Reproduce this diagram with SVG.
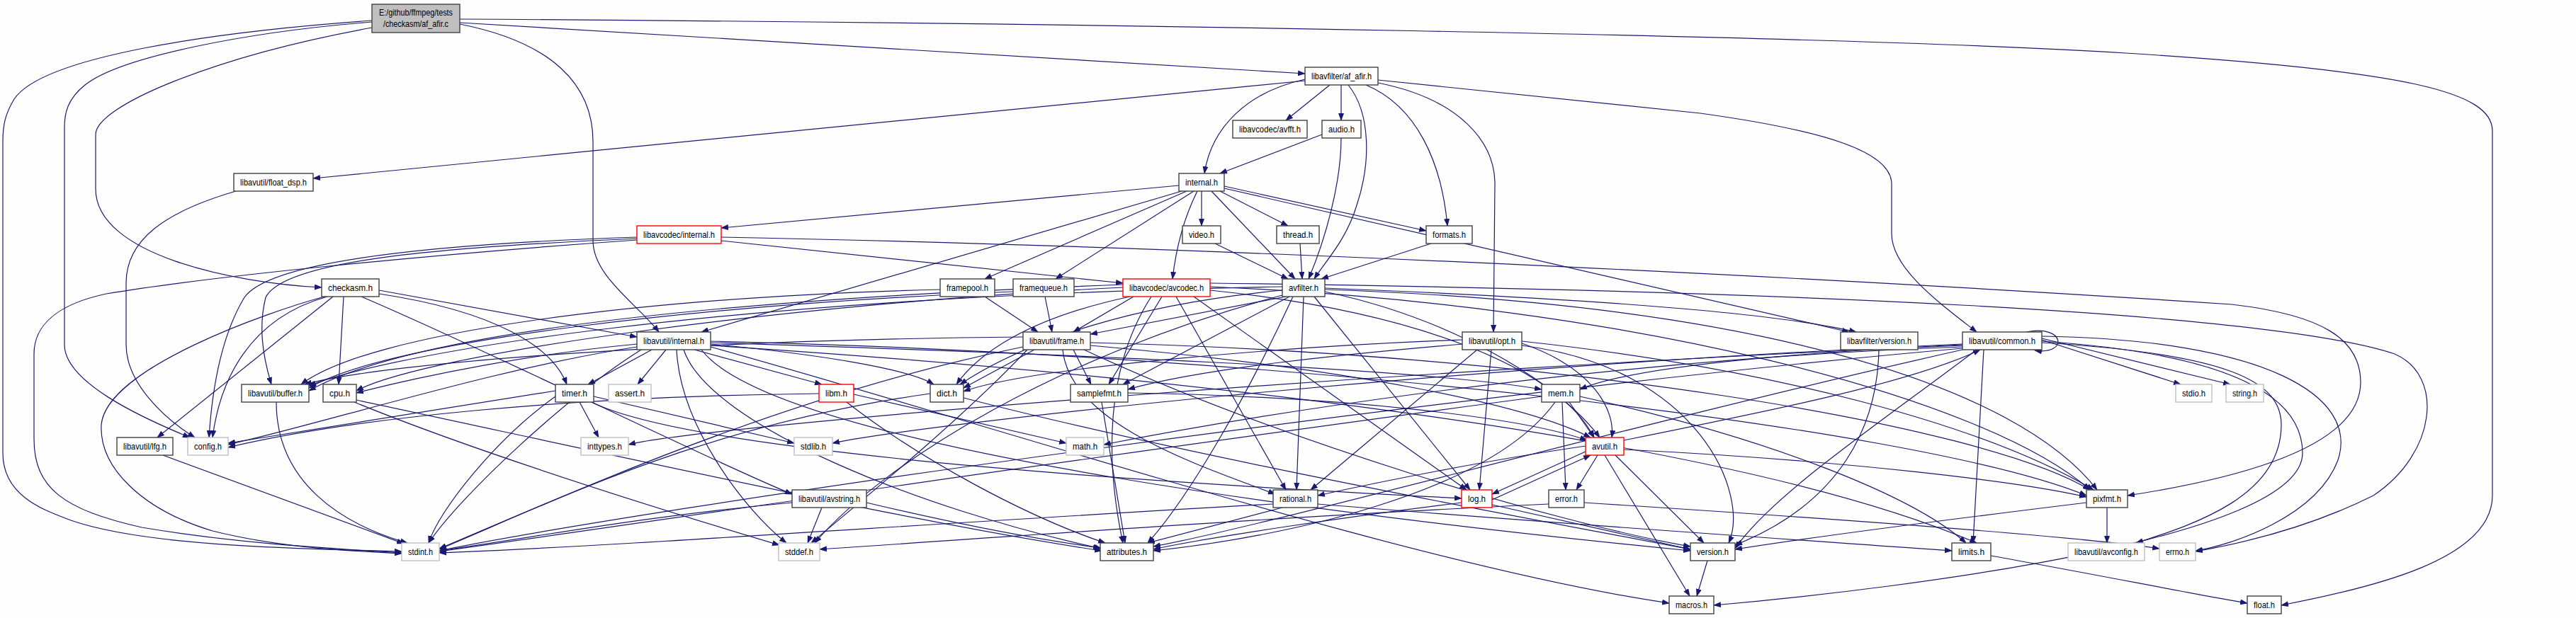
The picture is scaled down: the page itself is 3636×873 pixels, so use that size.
<svg xmlns="http://www.w3.org/2000/svg" width="3636" height="873" viewBox="0 0 3636 873">
<defs>
<style>
.e{fill:none;stroke:#191970;stroke-width:1.2;marker-end:url(#arr)}
.b{fill:#fff;stroke:#404040;stroke-width:1.4}
.g{fill:#fff;stroke:#bfbfbf;stroke-width:1.4}
.r{fill:#fff;stroke:#ff0000;stroke-width:1.4}
.rt{fill:#bfbfbf;stroke:#404040;stroke-width:1.4}
text{font-family:"Liberation Sans",Arial,sans-serif;font-size:13px;fill:#000;text-anchor:middle}
</style>
<marker id="arr" markerWidth="11" markerHeight="8" refX="10" refY="4" orient="auto" markerUnits="userSpaceOnUse"><path d="M0,0 L11,4 L0,8 z" fill="#191970"/></marker>
</defs>
<rect width="3636" height="873" fill="#fdfefd"/>
<g id="edges">
<path class="e" d="M649,32 L1842,104"/>
<path class="e" d="M649,27 C1500,32 2600,50 3000,75 C3400,100 3518,130 3518,185 L3518,700 C3518,790 3350,830 3220,855"/>
<path class="e" d="M649,34 C780,60 837,120 837,200 L837,340 C837,390 900,430 930,469"/>
<path class="e" d="M525,39 C300,80 135,150 135,190 L135,267 C135,360 330,400 454,406"/>
<path class="e" d="M525,31 C350,45 170,80 120,120 C95,140 91,160 91,180 L91,487 C91,540 200,590 268,618"/>
<path class="e" d="M525,29 C300,45 60,80 20,140 C8,160 4,175 4,200 L4,640 C4,700 60,720 100,735 C200,770 400,775 567,779"/>
<path class="e" d="M1842,114 L442,252"/>
<path class="e" d="M1877,120 L1815,170"/>
<path class="e" d="M1893,120 L1893,170"/>
<path class="e" d="M1842,112 C1760,130 1710,180 1700,245"/>
<path class="e" d="M1903,120 C1935,160 1935,230 1915,290 C1900,340 1870,370 1855,394"/>
<path class="e" d="M1928,120 C2000,150 2035,230 2043,319"/>
<path class="e" d="M1945,117 C2060,140 2110,200 2110,260 L2108,469"/>
<path class="e" d="M1945,113 L2400,160 C2580,185 2670,215 2670,260 L2670,330 C2670,380 2740,430 2790,469"/>
<path class="e" d="M333,270 C230,300 178,340 178,400 L178,487 C178,540 230,590 275,618"/>
<path class="e" d="M1893,195 C1893,260 1870,340 1847,394"/>
<path class="e" d="M1866,190 L1722,245"/>
<path class="e" d="M1664,262 L1018,322"/>
<path class="e" d="M1668,270 L990,469"/>
<path class="e" d="M1675,270 L1390,394"/>
<path class="e" d="M1685,270 L1490,394"/>
<path class="e" d="M1690,270 C1670,310 1660,350 1655,394"/>
<path class="e" d="M1696,270 L1696,319"/>
<path class="e" d="M1710,270 L1828,394"/>
<path class="e" d="M1722,270 L1818,319"/>
<path class="e" d="M1728,263 L2013,326"/>
<path class="e" d="M1728,266 L2610,469"/>
<path class="e" d="M1715,344 L1818,394"/>
<path class="e" d="M1835,344 L1838,394"/>
<path class="e" d="M2020,344 L1865,394"/>
<path class="e" d="M1018,340 L1585,400"/>
<path class="e" d="M1018,335 C1800,350 2700,400 3150,430 C3280,445 3332,480 3332,540 C3332,620 3200,670 3003,700"/>
<path class="e" d="M899,337 C600,350 400,370 375,420 C365,460 370,500 383,543"/>
<path class="e" d="M899,335 C600,345 380,370 345,420 C315,470 300,540 295,618"/>
<path class="e" d="M899,339 C600,360 300,390 150,415 C80,430 48,460 48,500 L48,620 C48,690 90,720 200,745 C350,770 480,775 567,781"/>
<path class="e" d="M1327,409 C900,420 520,470 425,543"/>
<path class="e" d="M1390,419 L1465,469"/>
<path class="e" d="M1430,412 C1000,430 550,480 436,548"/>
<path class="e" d="M1475,419 L1485,469"/>
<path class="e" d="M1600,419 L1515,469"/>
<path class="e" d="M1585,402 C1100,420 600,460 436,552"/>
<path class="e" d="M1585,406 C1100,430 600,500 503,552"/>
<path class="e" d="M1595,419 C1450,450 1380,500 1350,543"/>
<path class="e" d="M1640,419 L1565,543"/>
<path class="e" d="M1625,419 C1560,520 1560,650 1585,767"/>
<path class="e" d="M1660,419 L1815,692"/>
<path class="e" d="M1685,419 L2070,692"/>
<path class="e" d="M1708,410 C2000,440 2200,520 2250,618"/>
<path class="e" d="M1708,405 C2300,430 2800,560 2950,692"/>
<path class="e" d="M1708,400 C2500,410 3200,440 3380,500 C3450,530 3440,640 3350,700 C3250,750 3150,770 3099,779"/>
<path class="e" d="M1810,417 C1500,500 1250,650 1150,767"/>
<path class="e" d="M1825,419 C1760,560 1680,700 1620,767"/>
<path class="e" d="M1870,412 C2050,450 2200,540 2258,618"/>
<path class="e" d="M1810,405 C1000,420 550,500 436,545"/>
<path class="e" d="M1810,410 C1600,430 1450,480 1355,543"/>
<path class="e" d="M1815,419 L1539,472"/>
<path class="e" d="M1855,419 L2075,692"/>
<path class="e" d="M1820,419 L1585,543"/>
<path class="e" d="M1870,409 C2500,430 2850,550 2960,692"/>
<path class="e" d="M1840,419 L1830,692"/>
<path class="e" d="M1870,407 C2200,420 2500,440 2620,469"/>
<path class="e" d="M458,419 C380,440 150,520 143,600 C140,660 200,720 300,750 C400,775 500,778 567,782"/>
<path class="e" d="M462,419 C350,450 310,540 300,618"/>
<path class="e" d="M470,419 L222,618"/>
<path class="e" d="M485,419 L478,543"/>
<path class="e" d="M510,419 C700,500 1000,650 1118,698"/>
<path class="e" d="M535,410 L899,476"/>
<path class="e" d="M535,415 C700,440 780,490 800,543"/>
<path class="e" d="M1003,488 C1500,520 2400,600 2790,767"/>
<path class="e" d="M905,494 C800,560 650,700 605,767"/>
<path class="e" d="M955,494 C960,600 1050,720 1110,767"/>
<path class="e" d="M940,494 L900,543"/>
<path class="e" d="M899,490 C700,520 450,600 322,628"/>
<path class="e" d="M965,494 C1000,600 1300,720 1555,775"/>
<path class="e" d="M920,494 L830,543"/>
<path class="e" d="M899,486 C750,500 600,530 503,555"/>
<path class="e" d="M1003,486 C1150,500 1280,520 1318,543"/>
<path class="e" d="M1003,490 C1400,600 2000,800 2356,852"/>
<path class="e" d="M1003,484 C1500,500 2000,520 2176,550"/>
<path class="e" d="M1003,482 C1800,500 2700,600 2945,700"/>
<path class="e" d="M990,494 C1100,640 2000,740 2386,778"/>
<path class="e" d="M980,494 L1160,543"/>
<path class="e" d="M1450,494 C1350,600 1200,720 1145,767"/>
<path class="e" d="M1444,490 C1100,560 800,700 620,775"/>
<path class="e" d="M1539,488 C1900,520 2150,570 2245,618"/>
<path class="e" d="M1444,476 C1000,480 550,510 430,543"/>
<path class="e" d="M1460,494 L1360,548"/>
<path class="e" d="M1500,494 C1510,600 1700,660 1800,698"/>
<path class="e" d="M1515,494 L1540,543"/>
<path class="e" d="M1539,484 C2200,500 2800,600 2950,692"/>
<path class="e" d="M1530,494 C1800,620 2200,740 2386,772"/>
<path class="e" d="M2085,494 L1850,692"/>
<path class="e" d="M2148,485 C2250,520 2280,580 2275,618"/>
<path class="e" d="M2064,480 C1800,490 1450,520 1360,553"/>
<path class="e" d="M2105,494 L2088,692"/>
<path class="e" d="M2148,482 C2500,520 2800,600 2955,692"/>
<path class="e" d="M2064,486 C1900,500 1700,520 1592,550"/>
<path class="e" d="M2148,488 C2400,520 2470,700 2440,767"/>
<path class="e" d="M2652,494 C2650,600 2600,710 2449,770"/>
<path class="e" d="M2882,475 C3200,480 3330,560 3300,650 C3270,730 3150,770 3099,778"/>
<path class="e" d="M2770,488 C2000,520 1000,600 887,628"/>
<path class="e" d="M2800,494 L2785,767"/>
<path class="e" d="M2770,490 C2200,510 1700,600 1558,628"/>
<path class="e" d="M2770,492 C2000,560 900,720 620,778"/>
<path class="e" d="M2882,480 L3078,543"/>
<path class="e" d="M2882,478 L3148,543"/>
<path class="e" d="M2770,486 C2000,520 1300,600 1175,626"/>
<path class="e" d="M2770,494 C2300,600 1800,740 1628,772"/>
<path class="e" d="M2882,482 C3150,500 3250,560 3250,640 C3250,760 2700,830 2419,855"/>
<path class="e" d="M2790,494 C2650,600 2500,700 2449,775"/>
<path class="e" d="M2882,484 C3150,500 3220,540 3220,600 C3220,700 3100,740 3015,767"/>
<path class="e" d="M2770,487 C2500,500 2300,520 2230,550"/>
<path class="e" d="M2860,469 C2915,458 2920,502 2872,495"/>
<path class="e" d="M390,568 C390,680 480,740 575,767"/>
<path class="e" d="M500,568 C700,650 1000,740 1100,770"/>
<path class="e" d="M503,565 C900,650 1300,740 1555,778"/>
<path class="e" d="M784,552 L322,626"/>
<path class="e" d="M784,560 C700,620 620,720 605,767"/>
<path class="e" d="M818,568 L845,618"/>
<path class="e" d="M838,560 L1121,626"/>
<path class="e" d="M835,568 C1000,650 1800,690 2063,704"/>
<path class="e" d="M1205,557 L1505,626"/>
<path class="e" d="M1156,556 C800,560 500,590 322,632"/>
<path class="e" d="M1195,568 C1300,650 1450,730 1560,767"/>
<path class="e" d="M1313,556 C1000,600 800,700 620,776"/>
<path class="e" d="M1360,562 C1700,650 2200,740 2386,776"/>
<path class="e" d="M1592,555 C1900,560 2150,590 2240,622"/>
<path class="e" d="M1555,568 L1588,767"/>
<path class="e" d="M2230,560 C2500,620 2700,700 2775,767"/>
<path class="e" d="M2176,560 C1500,650 900,740 620,779"/>
<path class="e" d="M2195,568 C2100,700 1800,760 1628,778"/>
<path class="e" d="M2205,568 L2210,692"/>
<path class="e" d="M2215,568 L2250,618"/>
<path class="e" d="M2292,622 C2500,580 2700,540 2795,494"/>
<path class="e" d="M2255,643 L2225,692"/>
<path class="e" d="M2238,630 C2100,650 1950,680 1860,700"/>
<path class="e" d="M2280,643 L2405,767"/>
<path class="e" d="M2265,643 L2385,842"/>
<path class="e" d="M2240,637 L2106,698"/>
<path class="e" d="M2106,706 L2245,643"/>
<path class="e" d="M2292,635 C2600,650 2850,680 2945,702"/>
<path class="e" d="M2063,710 C1900,730 1700,760 1628,776"/>
<path class="e" d="M2106,713 L2386,776"/>
<path class="e" d="M2236,710 C2700,740 2950,760 3048,775"/>
<path class="e" d="M2186,712 C1800,730 1400,760 1157,776"/>
<path class="e" d="M1797,712 C1300,740 900,770 620,781"/>
<path class="e" d="M1860,712 C2200,740 2500,760 2755,778"/>
<path class="e" d="M1810,717 L1620,767"/>
<path class="e" d="M2974,717 L2974,767"/>
<path class="e" d="M2945,710 C2700,740 2550,760 2449,776"/>
<path class="e" d="M2410,792 L2395,842"/>
<path class="e" d="M1160,717 L1140,767"/>
<path class="e" d="M1118,710 C900,730 750,760 620,778"/>
<path class="e" d="M1223,710 C1350,740 1450,760 1553,774"/>
<path class="e" d="M230,643 L570,768"/>
<path class="e" d="M2810,785 C2950,810 3100,840 3172,852"/>
</g>
<g id="n_root"><rect class="rt" x="525" y="6" width="124" height="40"/><text x="587" y="22" textLength="104" lengthAdjust="spacingAndGlyphs">E:/github/ffmpeg/tests</text><text x="587" y="38" textLength="92" lengthAdjust="spacingAndGlyphs">/checkasm/af_afir.c</text></g>
<g id="n_afir"><rect class="b" x="1842" y="95" width="103" height="25"/><text x="1893.5" y="112" textLength="85" lengthAdjust="spacingAndGlyphs">libavfilter/af_afir.h</text></g>
<g id="n_fdsp"><rect class="b" x="330" y="245" width="112" height="25"/><text x="386" y="262" textLength="94" lengthAdjust="spacingAndGlyphs">libavutil/float_dsp.h</text></g>
<g id="n_avfft"><rect class="b" x="1740" y="170" width="105" height="25"/><text x="1792.5" y="187" textLength="87" lengthAdjust="spacingAndGlyphs">libavcodec/avfft.h</text></g>
<g id="n_audio"><rect class="b" x="1866" y="170" width="55" height="25"/><text x="1893.5" y="187" textLength="37" lengthAdjust="spacingAndGlyphs">audio.h</text></g>
<g id="n_lint"><rect class="b" x="1664" y="245" width="64" height="25"/><text x="1696" y="262" textLength="46" lengthAdjust="spacingAndGlyphs">internal.h</text></g>
<g id="n_acint"><rect class="r" x="899" y="319" width="119" height="25"/><text x="958.5" y="336" textLength="101" lengthAdjust="spacingAndGlyphs">libavcodec/internal.h</text></g>
<g id="n_video"><rect class="b" x="1669" y="319" width="54" height="25"/><text x="1696" y="336" textLength="36" lengthAdjust="spacingAndGlyphs">video.h</text></g>
<g id="n_thread"><rect class="b" x="1802" y="319" width="60" height="25"/><text x="1832" y="336" textLength="42" lengthAdjust="spacingAndGlyphs">thread.h</text></g>
<g id="n_formats"><rect class="b" x="2013" y="319" width="65" height="25"/><text x="2045.5" y="336" textLength="47" lengthAdjust="spacingAndGlyphs">formats.h</text></g>
<g id="n_checkasm"><rect class="b" x="454" y="394" width="81" height="25"/><text x="494.5" y="411" textLength="63" lengthAdjust="spacingAndGlyphs">checkasm.h</text></g>
<g id="n_fpool"><rect class="b" x="1327" y="394" width="77" height="25"/><text x="1365.5" y="411" textLength="59" lengthAdjust="spacingAndGlyphs">framepool.h</text></g>
<g id="n_fqueue"><rect class="b" x="1430" y="394" width="86" height="25"/><text x="1473" y="411" textLength="68" lengthAdjust="spacingAndGlyphs">framequeue.h</text></g>
<g id="n_avcodec"><rect class="r" x="1585" y="394" width="123" height="25"/><text x="1646.5" y="411" textLength="105" lengthAdjust="spacingAndGlyphs">libavcodec/avcodec.h</text></g>
<g id="n_avfilter"><rect class="b" x="1810" y="394" width="60" height="25"/><text x="1840" y="411" textLength="42" lengthAdjust="spacingAndGlyphs">avfilter.h</text></g>
<g id="n_uint"><rect class="b" x="899" y="469" width="104" height="25"/><text x="951" y="486" textLength="86" lengthAdjust="spacingAndGlyphs">libavutil/internal.h</text></g>
<g id="n_frame"><rect class="b" x="1444" y="469" width="95" height="25"/><text x="1491.5" y="486" textLength="77" lengthAdjust="spacingAndGlyphs">libavutil/frame.h</text></g>
<g id="n_opt"><rect class="b" x="2064" y="469" width="84" height="25"/><text x="2106" y="486" textLength="66" lengthAdjust="spacingAndGlyphs">libavutil/opt.h</text></g>
<g id="n_fver"><rect class="b" x="2598" y="469" width="109" height="25"/><text x="2652.5" y="486" textLength="91" lengthAdjust="spacingAndGlyphs">libavfilter/version.h</text></g>
<g id="n_common"><rect class="b" x="2770" y="469" width="112" height="25"/><text x="2826" y="486" textLength="94" lengthAdjust="spacingAndGlyphs">libavutil/common.h</text></g>
<g id="n_buffer"><rect class="b" x="341" y="543" width="95" height="25"/><text x="388.5" y="560" textLength="77" lengthAdjust="spacingAndGlyphs">libavutil/buffer.h</text></g>
<g id="n_cpu"><rect class="b" x="456" y="543" width="47" height="25"/><text x="479.5" y="560" textLength="29" lengthAdjust="spacingAndGlyphs">cpu.h</text></g>
<g id="n_timer"><rect class="b" x="784" y="543" width="54" height="25"/><text x="811" y="560" textLength="36" lengthAdjust="spacingAndGlyphs">timer.h</text></g>
<g id="n_assert"><rect class="g" x="859" y="543" width="60" height="25"/><text x="889" y="560" textLength="42" lengthAdjust="spacingAndGlyphs">assert.h</text></g>
<g id="n_libm"><rect class="r" x="1156" y="543" width="49" height="25"/><text x="1180.5" y="560" textLength="31" lengthAdjust="spacingAndGlyphs">libm.h</text></g>
<g id="n_dict"><rect class="b" x="1313" y="543" width="47" height="25"/><text x="1336.5" y="560" textLength="29" lengthAdjust="spacingAndGlyphs">dict.h</text></g>
<g id="n_sfmt"><rect class="b" x="1511" y="543" width="81" height="25"/><text x="1551.5" y="560" textLength="63" lengthAdjust="spacingAndGlyphs">samplefmt.h</text></g>
<g id="n_mem"><rect class="b" x="2176" y="543" width="54" height="25"/><text x="2203" y="560" textLength="36" lengthAdjust="spacingAndGlyphs">mem.h</text></g>
<g id="n_stdio"><rect class="g" x="3071" y="543" width="51" height="25"/><text x="3096.5" y="560" textLength="33" lengthAdjust="spacingAndGlyphs">stdio.h</text></g>
<g id="n_string"><rect class="g" x="3142" y="543" width="53" height="25"/><text x="3168.5" y="560" textLength="35" lengthAdjust="spacingAndGlyphs">string.h</text></g>
<g id="n_lfg"><rect class="b" x="165" y="618" width="79" height="25"/><text x="204.5" y="635" textLength="61" lengthAdjust="spacingAndGlyphs">libavutil/lfg.h</text></g>
<g id="n_config"><rect class="g" x="265" y="618" width="57" height="25"/><text x="293.5" y="635" textLength="39" lengthAdjust="spacingAndGlyphs">config.h</text></g>
<g id="n_inttypes"><rect class="g" x="820" y="618" width="67" height="25"/><text x="853.5" y="635" textLength="49" lengthAdjust="spacingAndGlyphs">inttypes.h</text></g>
<g id="n_stdlib"><rect class="g" x="1121" y="618" width="54" height="25"/><text x="1148" y="635" textLength="36" lengthAdjust="spacingAndGlyphs">stdlib.h</text></g>
<g id="n_math"><rect class="g" x="1505" y="618" width="53" height="25"/><text x="1531.5" y="635" textLength="35" lengthAdjust="spacingAndGlyphs">math.h</text></g>
<g id="n_avutil"><rect class="r" x="2238" y="618" width="54" height="25"/><text x="2265" y="635" textLength="36" lengthAdjust="spacingAndGlyphs">avutil.h</text></g>
<g id="n_avstring"><rect class="b" x="1118" y="692" width="105" height="25"/><text x="1170.5" y="709" textLength="87" lengthAdjust="spacingAndGlyphs">libavutil/avstring.h</text></g>
<g id="n_rational"><rect class="b" x="1797" y="692" width="63" height="25"/><text x="1828.5" y="709" textLength="45" lengthAdjust="spacingAndGlyphs">rational.h</text></g>
<g id="n_log"><rect class="r" x="2063" y="692" width="43" height="25"/><text x="2084.5" y="709" textLength="25" lengthAdjust="spacingAndGlyphs">log.h</text></g>
<g id="n_error"><rect class="b" x="2186" y="692" width="50" height="25"/><text x="2211" y="709" textLength="32" lengthAdjust="spacingAndGlyphs">error.h</text></g>
<g id="n_pixfmt"><rect class="b" x="2945" y="692" width="58" height="25"/><text x="2974" y="709" textLength="40" lengthAdjust="spacingAndGlyphs">pixfmt.h</text></g>
<g id="n_stdint"><rect class="g" x="567" y="767" width="53" height="25"/><text x="593.5" y="784" textLength="35" lengthAdjust="spacingAndGlyphs">stdint.h</text></g>
<g id="n_stddef"><rect class="g" x="1099" y="767" width="58" height="25"/><text x="1128" y="784" textLength="40" lengthAdjust="spacingAndGlyphs">stddef.h</text></g>
<g id="n_attributes"><rect class="b" x="1553" y="767" width="75" height="25"/><text x="1590.5" y="784" textLength="57" lengthAdjust="spacingAndGlyphs">attributes.h</text></g>
<g id="n_version"><rect class="b" x="2386" y="767" width="63" height="25"/><text x="2417.5" y="784" textLength="45" lengthAdjust="spacingAndGlyphs">version.h</text></g>
<g id="n_limits"><rect class="b" x="2755" y="767" width="55" height="25"/><text x="2782.5" y="784" textLength="37" lengthAdjust="spacingAndGlyphs">limits.h</text></g>
<g id="n_avconfig"><rect class="g" x="2919" y="767" width="108" height="25"/><text x="2973" y="784" textLength="90" lengthAdjust="spacingAndGlyphs">libavutil/avconfig.h</text></g>
<g id="n_errno"><rect class="g" x="3048" y="767" width="51" height="25"/><text x="3073.5" y="784" textLength="33" lengthAdjust="spacingAndGlyphs">errno.h</text></g>
<g id="n_macros"><rect class="b" x="2356" y="842" width="63" height="25"/><text x="2387.5" y="859" textLength="45" lengthAdjust="spacingAndGlyphs">macros.h</text></g>
<g id="n_float"><rect class="b" x="3172" y="842" width="48" height="25"/><text x="3196" y="859" textLength="30" lengthAdjust="spacingAndGlyphs">float.h</text></g>
</svg>
